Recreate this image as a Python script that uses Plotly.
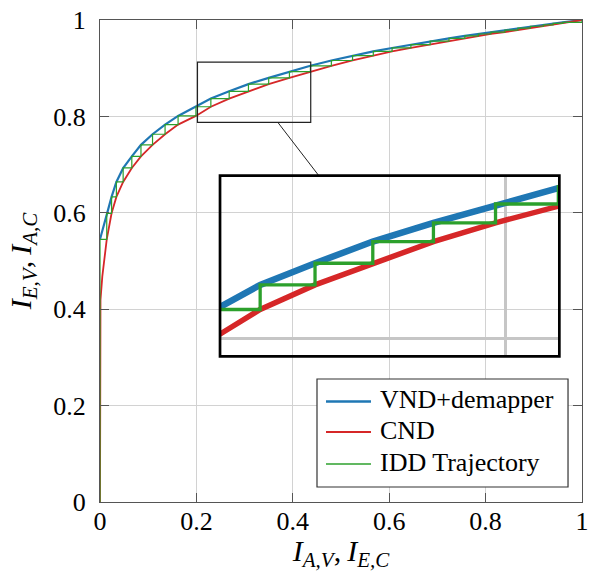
import plotly.graph_objects as go

# ---- data ----
vnd_x = [0.0, 0.014, 0.024, 0.034, 0.048, 0.066, 0.085, 0.109, 0.135, 0.162, 0.199,
         0.230, 0.268, 0.308, 0.350, 0.393, 0.4365, 0.480, 0.524, 0.567, 0.606, 0.645,
         0.685, 0.724, 0.757, 0.785, 0.811, 0.840, 0.867, 0.893, 0.920, 0.940, 0.960, 1.0]
vnd_y = [0.545, 0.599, 0.633, 0.664, 0.693, 0.717, 0.741, 0.763, 0.783, 0.801, 0.820,
         0.837, 0.852, 0.867, 0.880, 0.893, 0.905, 0.916, 0.926, 0.935, 0.942, 0.949,
         0.956, 0.962, 0.967, 0.971, 0.975, 0.979, 0.983, 0.987, 0.990, 0.993, 0.995, 1.0]

cnd_x = [0.0, 0.0002, 0.001, 0.0048, 0.0102, 0.014, 0.024, 0.034, 0.048, 0.066, 0.085,
         0.109, 0.135, 0.162, 0.199, 0.230, 0.268, 0.308, 0.350, 0.393, 0.4365, 0.480,
         0.524, 0.567, 0.606, 0.645, 0.685, 0.724, 0.757, 0.785, 0.811, 0.840, 0.867,
         0.893, 0.920, 0.940, 0.960, 1.0]
cnd_y = [0.0, 0.30, 0.419, 0.468, 0.509, 0.545, 0.599, 0.633, 0.664, 0.693, 0.717,
         0.741, 0.763, 0.783, 0.801, 0.820, 0.837, 0.852, 0.867, 0.880, 0.893, 0.905,
         0.916, 0.926, 0.935, 0.942, 0.949, 0.956, 0.962, 0.967, 0.971, 0.975, 0.979,
         0.983, 0.987, 0.990, 0.993, 1.0]

traj_x = [0.0, 0.0, 0.014, 0.024, 0.034, 0.048, 0.066, 0.085, 0.109, 0.135, 0.162, 0.199,
          0.230, 0.268, 0.308, 0.350, 0.393, 0.4365, 0.480, 0.524, 0.567, 0.606, 0.645,
          0.685, 0.724, 0.757, 0.785, 0.811, 0.840, 0.867, 0.893, 0.920, 0.940, 0.960, 1.0]
traj_y = [0.0, 0.545, 0.599, 0.633, 0.664, 0.693, 0.717, 0.741, 0.763, 0.783, 0.801, 0.820,
          0.837, 0.852, 0.867, 0.880, 0.893, 0.905, 0.916, 0.926, 0.935, 0.942, 0.949,
          0.956, 0.962, 0.967, 0.971, 0.975, 0.979, 0.983, 0.987, 0.990, 0.993, 0.995, 1.0]

series_names = ["VND+demapper", "CND", "IDD Trajectory"]

tick_vals = [0, 0.2, 0.4, 0.6, 0.8, 1]
tick_text = ["0", "0.2", "0.4", "0.6", "0.8", "1"]

zoom_x = [0.2022, 0.4372]
zoom_y = [0.7875, 0.9126]

BLUE = "#1f77b4"
RED = "#d62728"
GREEN = "#2ca02c"
FONT = "Liberation Serif"
AX = "#555555"
colors = [BLUE, RED, GREEN]
main_w = [2.2, 1.8, 1.2]

fig = go.Figure()

# main curves
fig.add_trace(go.Scatter(x=vnd_x, y=vnd_y, mode="lines", name=series_names[0],
                         showlegend=False, line=dict(color=BLUE, width=main_w[0])))
fig.add_trace(go.Scatter(x=cnd_x, y=cnd_y, mode="lines", name=series_names[1],
                         showlegend=False, line=dict(color=RED, width=main_w[1])))
fig.add_trace(go.Scatter(x=traj_x, y=traj_y, mode="lines", name=series_names[2],
                         showlegend=False, line=dict(color=GREEN, width=main_w[2], shape="hv")))

# magnified copies
fig.add_trace(go.Scatter(x=vnd_x, y=vnd_y, mode="lines", showlegend=False,
                         xaxis="x2", yaxis="y2", line=dict(color=BLUE, width=6.5)))
fig.add_trace(go.Scatter(x=cnd_x, y=cnd_y, mode="lines", showlegend=False,
                         xaxis="x2", yaxis="y2", line=dict(color=RED, width=5.5)))
fig.add_trace(go.Scatter(x=traj_x, y=traj_y, mode="lines", showlegend=False,
                         xaxis="x2", yaxis="y2", line=dict(color=GREEN, width=3.3, shape="hv")))

axis_common = dict(range=[0, 1], tickvals=tick_vals, ticktext=tick_text,
                   ticks="inside", ticklen=9, tickwidth=1, tickcolor=AX,
                   showline=True, linecolor=AX, linewidth=1.3, mirror="ticks",
                   showgrid=True, gridcolor="#d2d2d2", gridwidth=1, zeroline=False,
                   tickfont=dict(family=FONT, size=26, color="black"),
                   automargin=False)

fig.update_layout(
    width=590, height=572,
    margin=dict(l=100, r=8, t=20, b=70, pad=0, autoexpand=False),
    paper_bgcolor="white",
    plot_bgcolor="rgba(0,0,0,0)",
    font=dict(family=FONT, color="black"),
    showlegend=False,
    xaxis=dict(**axis_common, ticklabelstandoff=-4,
               title=dict(text="<i>I</i><sub><i>A,V</i></sub>,&#8201;<i>I</i><sub><i>E,C</i></sub>",
                          font=dict(family=FONT, size=30, color="black"), standoff=6)),
    yaxis=dict(**axis_common, ticklabelstandoff=8,
               title=dict(text="<i>I</i><sub><i>E,V</i></sub>,&#8201;<i>I</i><sub><i>A,C</i></sub>",
                          font=dict(family=FONT, size=30, color="black"), standoff=12)),
    xaxis2=dict(domain=[0.249, 0.953], anchor="y2", range=zoom_x,
                tickvals=[0.2, 0.4], showgrid=True, gridcolor="#c6c6c6", gridwidth=3,
                showticklabels=False, ticks="", showline=False, zeroline=False),
    yaxis2=dict(domain=[0.302, 0.677], anchor="x2", range=zoom_y,
                tickvals=[0.8], showgrid=True, gridcolor="#c6c6c6", gridwidth=3,
                showticklabels=False, ticks="", showline=False, zeroline=False),
)

# spy rectangle on main axes
fig.add_shape(type="rect", xref="x", yref="y",
              x0=zoom_x[0], x1=zoom_x[1], y0=zoom_y[0], y1=zoom_y[1],
              line=dict(color="#222222", width=1.2))
# connecting line
fig.add_shape(type="line", xref="x", yref="y",
              x0=0.369, y0=zoom_y[0], x1=0.454, y1=0.677,
              line=dict(color="#222222", width=1))
# inset frame
fig.add_shape(type="rect", xref="x2 domain", yref="y2 domain",
              x0=0, x1=1, y0=0, y1=1, line=dict(color="black", width=2.7))

# legend box (drawn by hand so its spacing matches)
fig.add_shape(type="rect", xref="paper", yref="paper",
              x0=0.4502, x1=0.9710, y0=0.0311, y1=0.2552,
              fillcolor="white", line=dict(color="#333333", width=1.2), layer="above")
leg_rows = [0.2085, 0.1452, 0.0788]
for name, col, w, yy in zip(series_names, colors, main_w, leg_rows):
    fig.add_shape(type="line", xref="paper", yref="paper",
                  x0=0.4689, x1=0.5622, y0=yy, y1=yy,
                  line=dict(color=col, width=w + 0.3), layer="above")
    fig.add_annotation(xref="paper", yref="paper", x=0.5774, y=yy + 0.004,
                       text=name, showarrow=False, xanchor="left", yanchor="middle",
                       font=dict(family=FONT, size=26, color="black"))

fig.write_html("out.html")
